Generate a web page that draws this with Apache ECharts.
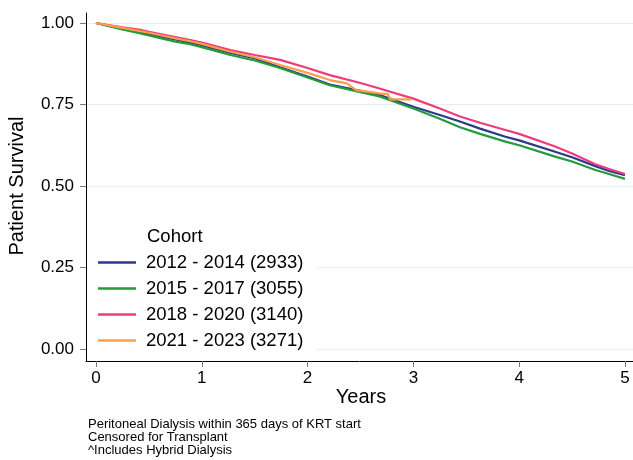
<!DOCTYPE html>
<html>
<head>
<meta charset="utf-8">
<script src="https://cdn.jsdelivr.net/npm/echarts@6/dist/echarts.min.js"></script>
<style>
html,body{margin:0;padding:0;background:#fff;}
#chart{width:633px;height:460px;}
</style>
</head>
<body>
<div id="chart"></div>
<script>
// ---- data ----
var cohortNames = ['2012 - 2014 (2933)', '2015 - 2017 (3055)', '2018 - 2020 (3140)', '2021 - 2023 (3271)'];
var xTicks = [0, 1, 2, 3, 4, 5];
var yTicks = [0, 0.25, 0.5, 0.75, 1];

var timeLong = [0, 0.25, 0.42, 0.5, 0.75, 0.89, 1.0, 1.27, 1.5, 1.74, 2.0, 2.21, 2.5, 2.68, 3.0, 3.25, 3.44, 3.63, 3.87, 4.0, 4.34, 4.5, 4.72, 4.85, 5.0];
var surv2012 = [1.000, 0.982, 0.972, 0.966, 0.950, 0.940, 0.932, 0.908, 0.892, 0.864, 0.836, 0.811, 0.792, 0.779, 0.743, 0.718, 0.698, 0.676, 0.651, 0.640, 0.605, 0.588, 0.561, 0.546, 0.533];
var surv2015 = [1.000, 0.980, 0.968, 0.962, 0.943, 0.935, 0.926, 0.902, 0.885, 0.862, 0.833, 0.809, 0.788, 0.775, 0.738, 0.706, 0.680, 0.660, 0.636, 0.625, 0.590, 0.575, 0.549, 0.537, 0.522];
var surv2018 = [1.000, 0.987, 0.979, 0.973, 0.957, 0.948, 0.940, 0.917, 0.902, 0.887, 0.862, 0.840, 0.816, 0.799, 0.768, 0.738, 0.713, 0.694, 0.672, 0.660, 0.621, 0.600, 0.567, 0.552, 0.537];
var timeShort = [0, 0.25, 0.5, 0.75, 0.89, 1.0, 1.27, 1.5, 1.74, 2.0, 2.21, 2.37, 2.46, 2.68, 2.76, 2.78, 2.98];
var surv2021 = [1.000, 0.985, 0.970, 0.953, 0.944, 0.936, 0.912, 0.895, 0.871, 0.847, 0.825, 0.815, 0.794, 0.784, 0.782, 0.766, 0.766];

var colors = ['#2a3a8c', '#249a3c', '#ee3b7b', '#fa9f47'];
var FONT = '"Liberation Sans", Arial, Helvetica, sans-serif';

function pairs(t, v) { return t.map(function (x, i) { return [x, v[i]]; }); }

var seriesData = [pairs(timeLong, surv2012), pairs(timeLong, surv2015), pairs(timeLong, surv2018), pairs(timeShort, surv2021)];

var chart = echarts.init(document.getElementById('chart'), null, { renderer: 'canvas' });
chart.setOption({
  animation: false,
  backgroundColor: '#fff',
  grid: { left: 86, right: 0, top: 13, bottom: 99, containLabel: false },
  xAxis: {
    type: 'value', min: -0.0945, max: 5.076,
    axisLine: { show: true, onZero: false, lineStyle: { color: '#000', width: 1 } },
    axisTick: { show: true, customValues: xTicks, length: 6, lineStyle: { color: '#777' } },
    axisLabel: { customValues: xTicks, fontSize: 17, color: '#000', margin: 9, fontFamily: FONT },
    splitLine: { show: false }
  },
  yAxis: {
    type: 'value', min: -0.0368, max: 1.0307,
    axisLine: { show: true, onZero: false, lineStyle: { color: '#000', width: 1 } },
    axisTick: { show: true, customValues: yTicks, length: 6, lineStyle: { color: '#777' } },
    axisLabel: { customValues: yTicks, fontSize: 17, color: '#000', margin: 12, fontFamily: FONT,
      formatter: function (v) { return v.toFixed(2); } },
    splitLine: { show: true, lineStyle: { color: '#e8eeee', width: 1.2 } }
  },
  legend: {
    orient: 'vertical', left: 87, top: 222,
    data: cohortNames,
    backgroundColor: '#fff',
    padding: [31, 14, 8, 11],
    itemWidth: 38, itemHeight: 2.5, itemGap: 7,
    icon: 'rect',
    textStyle: { fontSize: 18.5, color: '#000', fontFamily: FONT, lineHeight: 18, padding: [0, 0, 0, 5] },
    z: 3
  },
  graphic: [
    { type: 'text', left: 147, top: 227, z: 100,
      style: { text: 'Cohort', font: '18.5px ' + FONT, fill: '#000' } },
    { type: 'text', x: 17, y: 186, rotation: Math.PI / 2, z: 100,
      style: { text: 'Patient Survival', font: '20px ' + FONT, fill: '#000', align: 'center', verticalAlign: 'middle' } },
    { type: 'text', x: 361, y: 397, z: 100,
      style: { text: 'Years', font: '20px ' + FONT, fill: '#000', align: 'center', verticalAlign: 'middle' } },
    { type: 'text', left: 88, top: 418, z: 100,
      style: { text: 'Peritoneal Dialysis within 365 days of KRT start\nCensored for Transplant\n^Includes Hybrid Dialysis',
        font: '13px ' + FONT, fill: '#000', lineHeight: 12.8 } }
  ],
  series: cohortNames.map(function (name, i) {
    return {
      name: name, type: 'line', data: seriesData[i],
      showSymbol: false, symbol: 'none', smooth: false,
      lineStyle: { color: colors[i], width: 2.2 },
      itemStyle: { color: colors[i] },
      z: 2
    };
  })
});
</script>
</body>
</html>
